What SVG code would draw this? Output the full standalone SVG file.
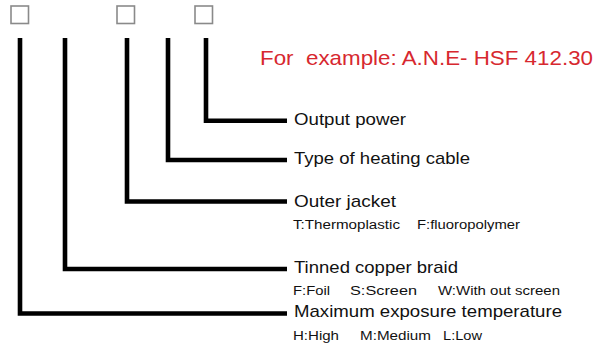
<svg xmlns="http://www.w3.org/2000/svg" width="603" height="347" viewBox="0 0 603 347">
<style>
.box{fill:#fff;stroke:#8a8a8a;stroke-width:1.6}
.ln{fill:none;stroke:#000;stroke-width:4.6;stroke-linejoin:miter;stroke-linecap:butt}
.lbl{font-family:"Liberation Sans",Arial,sans-serif;font-size:17px;fill:#111}
.sub{font-family:"Liberation Sans",Arial,sans-serif;font-size:12.5px;fill:#111}
.ex{font-family:"Liberation Sans",Arial,sans-serif;font-size:21px;fill:#d7282f;white-space:pre}
</style>
<rect width="603" height="347" fill="#fff"/>
<g id="boxes">
<rect id="box1" class="box" x="11" y="6" width="17.5" height="17.5"/>
<rect id="box2" class="box" x="117" y="6" width="17.5" height="17.5"/>
<rect id="box3" class="box" x="195" y="6" width="17.5" height="17.5"/>
</g>
<g id="example"><text class="ex" x="260" y="65" textLength="333" lengthAdjust="spacingAndGlyphs">For  example: A.N.E- HSF 412.30</text></g>
<g id="connectors">
<polyline class="ln" points="206,38 206,120.7 287,120.7"/>
<polyline class="ln" points="168,38 168,160 287,160"/>
<polyline class="ln" points="127,38 127,201.5 287,201.5"/>
<polyline class="ln" points="65,38 65,269 287,269"/>
<polyline class="ln" points="20,38 20,313.5 287,313.5"/>
</g>
<g id="output-power"><text class="lbl" x="294" y="125" textLength="112" lengthAdjust="spacingAndGlyphs">Output power</text></g>
<g id="heating-cable"><text class="lbl" x="294" y="163.5" textLength="176" lengthAdjust="spacingAndGlyphs">Type of heating cable</text></g>
<g id="outer-jacket">
<text class="lbl" x="294" y="206.5" textLength="102" lengthAdjust="spacingAndGlyphs">Outer jacket</text>
<text class="sub" y="229"><tspan x="293" textLength="107" lengthAdjust="spacingAndGlyphs">T:Thermoplastic</tspan><tspan x="417" textLength="103" lengthAdjust="spacingAndGlyphs">F:fluoropolymer</tspan></text>
</g>
<g id="copper-braid">
<text class="lbl" x="294" y="272.7" textLength="164" lengthAdjust="spacingAndGlyphs">Tinned copper braid</text>
<text class="sub" y="294.5"><tspan x="293" textLength="37" lengthAdjust="spacingAndGlyphs">F:Foil</tspan><tspan x="350" textLength="67" lengthAdjust="spacingAndGlyphs">S:Screen</tspan><tspan x="438" textLength="122" lengthAdjust="spacingAndGlyphs">W:With out screen</tspan></text>
</g>
<g id="max-temp">
<text class="lbl" x="294" y="316.7" textLength="268" lengthAdjust="spacingAndGlyphs">Maximum exposure temperature</text>
<text class="sub" y="339.5"><tspan x="293" textLength="46" lengthAdjust="spacingAndGlyphs">H:High</tspan><tspan x="360" textLength="71" lengthAdjust="spacingAndGlyphs">M:Medium</tspan><tspan x="443" textLength="39" lengthAdjust="spacingAndGlyphs">L:Low</tspan></text>
</g>
</svg>
